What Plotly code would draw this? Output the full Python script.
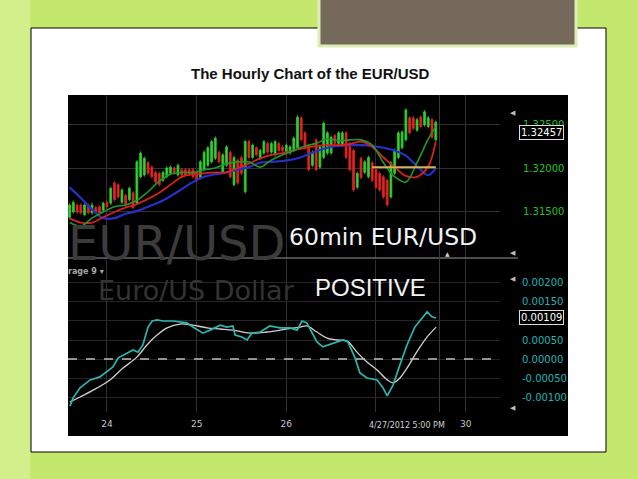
import plotly.graph_objects as go

# ---------------- data ----------------
bars = list(range(99))
opens = [1.3144,1.3150,1.3158,1.3158,1.3147,1.3158,1.3149,1.3155,1.3156,1.3152,
         1.3161,1.3160,1.3183,1.3181,1.3161,1.3169,1.3164,1.3172,1.3160,1.3190,
         1.3192,1.3206,1.3201,1.3195,1.3194,1.3186,1.3190,1.3194,1.3200,1.3192,
         1.3198,1.3198,1.3198,1.3198,1.3195,1.3189,1.3198,1.3203,1.3207,1.3211,
         1.3218,1.3195,1.3203,1.3218,1.3181,1.3209,1.3212,1.3173,1.3230,1.3212,
         1.3223,1.3211,1.3217,1.3228,1.3218,1.3215,1.3228,1.3224,1.3218,1.3217,
         1.3220,1.3223,1.3257,1.3240,1.3226,1.3203,1.3232,1.3201,1.3212,1.3217,
         1.3217,1.3237,1.3228,1.3226,1.3240,1.3228,1.3220,1.3178,1.3211,1.3195,
         1.3190,1.3206,1.3198,1.3194,1.3190,1.3186,1.3167,1.3194,1.3212,1.3223,
         1.3232,1.3257,1.3257,1.3243,1.3258,1.3249,1.3247,1.3255,1.3232]
highs = [1.3160,1.3163,1.3160,1.3160,1.3160,1.3160,1.3161,1.3157,1.3158,1.3162,
         1.3163,1.3179,1.3185,1.3183,1.3177,1.3171,1.3179,1.3174,1.3209,1.3219,
         1.3213,1.3208,1.3203,1.3197,1.3196,1.3197,1.3202,1.3203,1.3202,1.3205,
         1.3200,1.3200,1.3200,1.3200,1.3197,1.3209,1.3220,1.3225,1.3232,1.3236,
         1.3220,1.3217,1.3226,1.3220,1.3214,1.3211,1.3214,1.3232,1.3232,1.3228,
         1.3225,1.3222,1.3232,1.3230,1.3230,1.3232,1.3230,1.3226,1.3228,1.3226,
         1.3236,1.3260,1.3259,1.3242,1.3228,1.3220,1.3234,1.3226,1.3253,1.3242,
         1.3237,1.3239,1.3242,1.3242,1.3242,1.3230,1.3222,1.3196,1.3213,1.3209,
         1.3214,1.3208,1.3200,1.3196,1.3192,1.3188,1.3208,1.3222,1.3242,1.3243,
         1.3268,1.3259,1.3259,1.3257,1.3260,1.3266,1.3259,1.3257,1.3254]
lows = [1.3142,1.3148,1.3148,1.3147,1.3145,1.3147,1.3147,1.3148,1.3147,1.3150,
        1.3154,1.3158,1.3162,1.3165,1.3159,1.3156,1.3162,1.3153,1.3158,1.3188,
        1.3190,1.3192,1.3188,1.3182,1.3179,1.3184,1.3188,1.3192,1.3192,1.3190,
        1.3190,1.3190,1.3191,1.3188,1.3184,1.3187,1.3196,1.3201,1.3205,1.3209,
        1.3205,1.3193,1.3201,1.3188,1.3179,1.3181,1.3192,1.3171,1.3210,1.3210,
        1.3213,1.3209,1.3215,1.3216,1.3216,1.3213,1.3218,1.3218,1.3216,1.3215,
        1.3218,1.3221,1.3230,1.3221,1.3196,1.3201,1.3196,1.3199,1.3210,1.3215,
        1.3215,1.3226,1.3226,1.3224,1.3210,1.3196,1.3173,1.3176,1.3187,1.3193,
        1.3188,1.3184,1.3176,1.3173,1.3165,1.3156,1.3165,1.3192,1.3210,1.3221,
        1.3230,1.3238,1.3243,1.3241,1.3245,1.3247,1.3245,1.3233,1.3230]
closes = [1.3158,1.3161,1.3150,1.3149,1.3158,1.3149,1.3158,1.3150,1.3149,1.3160,
          1.3156,1.3177,1.3164,1.3167,1.3175,1.3158,1.3177,1.3155,1.3207,1.3217,
          1.3211,1.3194,1.3190,1.3184,1.3181,1.3195,1.3200,1.3201,1.3194,1.3203,
          1.3192,1.3192,1.3193,1.3190,1.3186,1.3207,1.3218,1.3223,1.3230,1.3234,
          1.3207,1.3215,1.3224,1.3190,1.3212,1.3183,1.3194,1.3230,1.3212,1.3226,
          1.3215,1.3220,1.3230,1.3218,1.3228,1.3230,1.3220,1.3220,1.3226,1.3224,
          1.3234,1.3258,1.3232,1.3223,1.3198,1.3218,1.3198,1.3224,1.3251,1.3240,
          1.3235,1.3228,1.3240,1.3240,1.3212,1.3198,1.3175,1.3194,1.3189,1.3207,
          1.3212,1.3186,1.3178,1.3175,1.3167,1.3158,1.3206,1.3220,1.3240,1.3241,
          1.3266,1.3240,1.3245,1.3255,1.3247,1.3264,1.3257,1.3235,1.3252]

ma_x = [0,3,6,9,12,15,18,21,24,27,30,33,36,39,42,45,48,51,54,57,60,63,66,69,72,75,78,81,84,87,90,93,96,98]
ma_fast = [1.3138,1.3134,1.3143,1.3150,1.3156,1.3158,1.3163,1.3173,1.3185,1.3193,
           1.3195,1.3195,1.3198,1.3200,1.3205,1.3207,1.3207,1.3201,1.3209,1.3215,
           1.3220,1.3225,1.3228,1.3233,1.3231,1.3232,1.3232,1.3226,1.3206,1.3190,
           1.3184,1.3206,1.3233,1.3247]
ma_mid = [1.3143,1.3138,1.3138,1.3144,1.3150,1.3155,1.3159,1.3165,1.3172,1.3181,
          1.3190,1.3193,1.3194,1.3195,1.3195,1.3200,1.3205,1.3211,1.3215,1.3217,
          1.3220,1.3223,1.3225,1.3226,1.3226,1.3227,1.3230,1.3224,1.3212,1.3201,
          1.3191,1.3190,1.3202,1.3230]
ma_slow = [1.3178,1.3166,1.3153,1.3143,1.3143,1.3148,1.3151,1.3156,1.3161,1.3168,
           1.3176,1.3184,1.3190,1.3193,1.3195,1.3198,1.3201,1.3206,1.3207,1.3208,
           1.3210,1.3214,1.3219,1.3223,1.3225,1.3226,1.3226,1.3225,1.3223,1.3220,
           1.3214,1.3202,1.3192,1.3200]

level_x = [81, 98]
level_y = [1.3201, 1.3201]

macd_x = [0.1,0.9,2.8,5.5,8.1,10.0,11.6,13.0,15.4,17.0,18.3,19.6,21.0,22.1,23.4,25.0,27.7,29.6,
          31.4,33.0,35.7,37.6,40.3,42.1,43.7,44.3,46.1,47.5,48.8,51.0,53.6,56.3,59.0,60.9,
          62.2,63.5,65.2,66.2,67.8,70.5,73.2,74.5,76.4,77.7,79.6,82.3,83.9,85.0,86.6,88.4,
          90.3,92.4,94.3,95.7,97.0,98.1]
macd = [-0.00124,-0.00103,-0.00076,-0.00055,-0.00047,-0.00034,-0.00021,0.00003,0.00016,0.00024,
        0.00018,0.00037,0.00084,0.00100,0.00103,0.00100,0.00100,0.00097,0.00095,0.00084,
        0.00068,0.00076,0.00089,0.00084,0.00087,0.00063,0.00058,0.00050,0.00068,0.00071,
        0.00087,0.00082,0.00082,0.00076,0.00100,0.00095,0.00063,0.00045,0.00032,0.00042,
        0.00050,0.00045,0.00003,-0.00037,-0.00050,-0.00055,-0.00076,-0.00097,-0.00068,-0.00016,
        0.00037,0.00084,0.00108,0.00124,0.00111,0.00108]
signal_x = [0.1,2.8,6.3,10.8,14.3,18.0,20.7,23.4,26.1,29.6,33.0,36.8,40.3,43.7,48.3,52.8,58.2,
            61.7,63.5,66.2,68.9,71.6,74.3,76.9,79.6,82.3,85.0,86.6,88.4,90.3,92.9,95.7,98.1]
signal = [-0.00113,-0.00100,-0.00082,-0.00055,-0.00024,0.00005,0.00037,0.00063,0.00082,0.00092,
          0.00089,0.00082,0.00079,0.00076,0.00068,0.00071,0.00079,0.00084,0.00087,0.00071,
          0.00055,0.00050,0.00047,0.00018,-0.00008,-0.00029,-0.00055,-0.00063,-0.00050,-0.00024,
          0.00018,0.00058,0.00084]

day_ticks = [10, 34, 58, 82, 106]
day_labels = ["24", "25", "26", "", "30"]
price_ticks = [1.315, 1.320, 1.325]
price_labels = ["1.31500", "1.32000", "1.32500"]
macd_ticks = [-0.001, -0.0005, 0.0, 0.0005, 0.001, 0.0015, 0.002]
macd_labels = ["-0.00100", "-0.00050", "0.00000", "0.00050", "", "0.00150", "0.00200"]
last_price = 1.32457
last_macd = 0.00109
cursor_bar = 99
cursor_label = "4/27/2012 5:00 PM"

# ---------------- figure ----------------
W, H = 638, 479
L, R, T, B = 68, 500, 95, 412
PW, PH = R - L, B - T


def px(xp):
    return (xp - L) / PW


def py(yp):
    return (B - yp) / PH


fig = go.Figure()

fig.add_trace(go.Candlestick(
    x=bars, open=opens, high=highs, low=lows, close=closes,
    increasing=dict(line=dict(color="#2fd12f", width=0.8), fillcolor="#2fd12f"),
    decreasing=dict(line=dict(color="#e8231f", width=0.8), fillcolor="#e8231f"),
    whiskerwidth=0, xaxis="x", yaxis="y", showlegend=False, hoverinfo="skip"))

fig.add_trace(go.Scatter(x=ma_x, y=ma_slow, mode="lines", xaxis="x", yaxis="y",
                         line=dict(color="#2630c8", width=2.2, shape="spline"), showlegend=False))
fig.add_trace(go.Scatter(x=ma_x, y=ma_mid, mode="lines", xaxis="x", yaxis="y",
                         line=dict(color="#d8211e", width=1.8, shape="spline"), showlegend=False))
fig.add_trace(go.Scatter(x=ma_x, y=ma_fast, mode="lines", xaxis="x", yaxis="y",
                         line=dict(color="#23962a", width=1.6, shape="spline"), showlegend=False))
fig.add_trace(go.Scatter(x=level_x, y=level_y, mode="lines", xaxis="x", yaxis="y",
                         line=dict(color="#d9b15e", width=2), showlegend=False))

fig.add_trace(go.Scatter(x=signal_x, y=signal, mode="lines", xaxis="x2", yaxis="y2",
                         line=dict(color="#d0d0d0", width=1.3, shape="spline"), showlegend=False))
fig.add_trace(go.Scatter(x=macd_x, y=macd, mode="lines", xaxis="x2", yaxis="y2",
                         line=dict(color="#2bb7b0", width=1.7), showlegend=False))

xr = [-0.43, 115.2]
grid = "#303030"
axis_common = dict(range=xr, tickvals=day_ticks, showgrid=True, gridcolor=grid, gridwidth=1,
                   zeroline=False, showline=False, fixedrange=True)

fig.update_layout(
    width=W, height=H,
    margin=dict(l=L, r=W - R, t=T, b=H - B),
    paper_bgcolor="#c4e86e", plot_bgcolor="#000000",
    xaxis=dict(**axis_common, anchor="y", showticklabels=False, rangeslider=dict(visible=False)),
    xaxis2=dict(**axis_common, anchor="y2", ticktext=day_labels, ticks="outside", ticklen=3,
                tickcolor="rgba(0,0,0,0)",
                tickfont=dict(family="DejaVu Sans", size=9, color="#c8c8c8")),
    yaxis=dict(domain=[py(258), 1], range=[1.30977, 1.32830], side="right",
               tickvals=price_ticks, ticktext=price_labels, ticks="outside", ticklen=20,
               tickcolor="rgba(0,0,0,0)", showgrid=True, gridcolor=grid, zeroline=False,
               fixedrange=True,
               tickfont=dict(family="DejaVu Sans", size=10, color="#27c227")),
    yaxis2=dict(domain=[0, py(260)], range=[-0.0013947, 0.002605], side="right",
                tickvals=macd_ticks, ticktext=macd_labels, ticks="outside", ticklen=19,
                tickcolor="rgba(0,0,0,0)", showgrid=True, gridcolor="#262626", zeroline=False,
                fixedrange=True,
                tickfont=dict(family="DejaVu Sans", size=10, color="#22b4b4")),
    showlegend=False,
)

shapes = [
    # lighter strip at the left of the slide background
    dict(type="rect", xref="paper", yref="paper", x0=px(-2), x1=px(30), y0=py(481), y1=py(-2),
         fillcolor="#d2ef8c", line=dict(width=0), layer="below"),
    # white slide panel
    dict(type="rect", xref="paper", yref="paper", x0=px(31), x1=px(606), y0=py(452), y1=py(28),
         fillcolor="white", line=dict(color="black", width=1), layer="below"),
    # brown header box
    dict(type="rect", xref="paper", yref="paper", x0=px(319), x1=px(576), y0=py(46), y1=py(-6),
         fillcolor="#75695b", line=dict(color="#dcedb8", width=3), layer="below"),
    # black chart backdrop
    dict(type="rect", xref="paper", yref="paper", x0=px(68), x1=px(568), y0=py(436), y1=py(95),
         fillcolor="black", line=dict(width=0), layer="below"),
    # separator between panels
    dict(type="line", xref="paper", yref="paper", x0=0, x1=px(518), y0=py(258), y1=py(258),
         line=dict(color="#9a9a9a", width=1)),
    # zero dashed line
    dict(type="line", xref="paper", yref="y2", x0=0, x1=1, y0=0, y1=0,
         line=dict(color="#bdbdbd", width=1.3, dash="dash")),
    # cursor line
    dict(type="line", xref="x", yref="paper", x0=cursor_bar, x1=cursor_bar, y0=0, y1=1,
         line=dict(color="#3a3a3a", width=1)),
]
fig.update_layout(shapes=shapes)

ann = []
ann.append(dict(text="<b>The Hourly Chart of the EUR/USD</b>", xref="paper", yref="paper",
                x=px(310), y=py(73), showarrow=False, xanchor="center", yanchor="middle",
                font=dict(family="Liberation Sans", size=15, color="#111111")))
ann.append(dict(text="EUR/USD", xref="paper", yref="paper", x=px(66), y=py(243), showarrow=False,
                xanchor="left", yanchor="middle",
                font=dict(family="DejaVu Sans", size=48, color="#3b3b3b")))
ann.append(dict(text="60min EUR/USD", xref="paper", yref="paper", x=px(383), y=py(237),
                showarrow=False, xanchor="center", yanchor="middle",
                font=dict(family="DejaVu Sans", size=23.5, color="#f2f2f2")))
ann.append(dict(text="Euro/US Dollar", xref="paper", yref="paper", x=px(196), y=py(290),
                showarrow=False, xanchor="center", yanchor="middle",
                font=dict(family="DejaVu Sans", size=27, color="#333333")))
ann.append(dict(text="POSITIVE", xref="paper", yref="paper", x=px(370), y=py(287),
                showarrow=False, xanchor="center", yanchor="middle",
                font=dict(family="Liberation Sans", size=24, color="#f2f2f2")))
ann.append(dict(text="<b>rage 9 \u25be</b>", xref="paper", yref="paper", x=px(66), y=py(271),
                showarrow=False, xanchor="left", yanchor="middle",
                font=dict(family="DejaVu Sans", size=8, color="#a8a8a8")))
ann.append(dict(text=f"{last_price:.5f}", xref="paper", yref="y", x=px(519), y=last_price,
                yshift=-5, showarrow=False, xanchor="left", yanchor="middle",
                bgcolor="black", bordercolor="#dddddd", borderwidth=1, borderpad=1,
                font=dict(family="DejaVu Sans", size=10, color="white")))
ann.append(dict(text=f"{last_macd:.5f}", xref="paper", yref="y2", x=px(519), y=last_macd,
                showarrow=False, xanchor="left", yanchor="middle",
                bgcolor="black", bordercolor="#dddddd", borderwidth=1, borderpad=1,
                font=dict(family="DejaVu Sans", size=10, color="white")))
ann.append(dict(text=cursor_label, xref="paper", yref="paper", x=px(407), y=py(425),
                showarrow=False, xanchor="center", yanchor="middle",
                font=dict(family="DejaVu Sans", size=8, color="#d0d0d0")))
for yy in [113, 253, 279, 408]:
    ann.append(dict(text="\u25c0", xref="paper", yref="paper", x=px(513), y=py(yy),
                    showarrow=False, xanchor="center", yanchor="middle",
                    font=dict(family="DejaVu Sans", size=7, color="#bbbbbb")))
ann.append(dict(text="\u25b2", xref="paper", yref="paper", x=px(447), y=py(253),
                showarrow=False, xanchor="center", yanchor="middle",
                font=dict(family="DejaVu Sans", size=6, color="#cccccc")))
fig.update_layout(annotations=ann)

fig.write_html("out.html", config={"displayModeBar": False, "staticPlot": True},
               post_script="document.body.style.margin='0';document.body.style.overflow='hidden';")
